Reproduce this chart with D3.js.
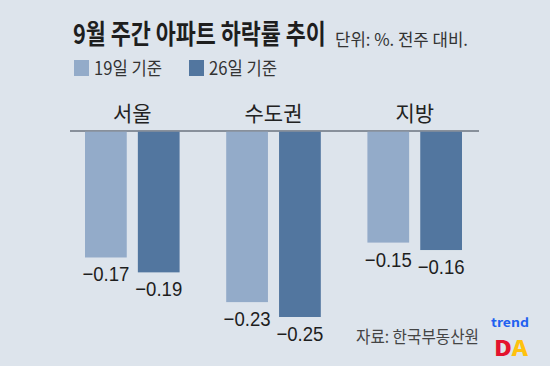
<!DOCTYPE html>
<html>
<head>
<meta charset="utf-8">
<script src="https://cdn.jsdelivr.net/npm/d3@7"></script>
<style>
  body { margin: 0; background: #dde4ec; }
  svg { display: block; }
  text { font-family: "Noto Sans CJK KR", "Noto Sans", sans-serif; }
  .num { font-family: "Liberation Sans", Arial, sans-serif; }
</style>
</head>
<body>
<svg id="chart" width="550" height="366"></svg>
<script>
const regions = ["서울", "수도권", "지방"];
const weeks = ["19일 기준", "26일 기준"];
const week19 = [-0.17, -0.23, -0.15];
const week26 = [-0.19, -0.25, -0.16];
const colors = ["#93abc9", "#52769f"];

const svg = d3.select("#chart");

svg.append("rect").attr("width", 550).attr("height", 366).attr("fill", "#dde4ec");

// squeeze a text horizontally so it spans `w` px starting at x (condensed look of the original)
function fit(sel, x, y, w, anchor) {
    sel.each(function () {
        const n = this.getComputedTextLength();
        const k = w / n;
        d3.select(this).attr("x", 0).attr("y", 0)
            .attr("text-anchor", anchor || "start")
            .attr("transform", "translate(" + x + "," + y + ") scale(" + k + ",1)");
    });
}

// rows built from the arrays above
const rows = regions.map((r, i) => ({ region: r, values: [week19[i], week26[i]] }));

const x0 = d3.scaleBand().domain(regions).range([85, 462]).paddingInner(0.33).paddingOuter(0);
const x1 = d3.scaleBand().domain(weeks).range([0, x0.bandwidth()]).paddingInner(0.21);
const y = d3.scaleLinear().domain([0, -0.25]).range([131, 317]);

// title
svg.append("text")
    .attr("font-size", 27).attr("font-weight", "bold").attr("fill", "#1e1e1e")
    .text("9월 주간 아파트 하락률 추이")
    .call(fit, 73, 44, 253);

svg.append("text")
    .attr("font-size", 17).attr("fill", "#333")
    .text("단위: %. 전주 대비.")
    .call(fit, 335, 46, 133);

// legend
const legend = svg.append("g").selectAll("g").data(weeks).enter().append("g")
    .attr("transform", (d, i) => "translate(" + (74 + i * 115) + ",60)");
legend.append("rect").attr("width", 15).attr("height", 16).attr("fill", (d, i) => colors[i]);
legend.append("text")
    .attr("font-size", 18).attr("fill", "#333")
    .text(d => d)
    .call(fit, 20, 15, 68);

// baseline
svg.append("line")
    .attr("x1", 70).attr("x2", 479)
    .attr("y1", y(0)).attr("y2", y(0))
    .attr("stroke", "#6b7480").attr("stroke-width", 1.5);

// category labels
svg.append("g").selectAll("text").data(regions).enter().append("text")
    .attr("x", d => x0(d) + x0.bandwidth() / 2)
    .attr("y", 121)
    .attr("text-anchor", "middle")
    .attr("font-size", 21).attr("fill", "#222")
    .text(d => d);

const groups = svg.append("g").selectAll("g").data(rows).enter().append("g")
    .attr("transform", d => "translate(" + x0(d.region) + ",0)");

const bars = groups.selectAll("g").data(d => d.values.map((v, i) => ({ key: weeks[i], value: v, i: i })))
    .enter().append("g");

bars.append("rect")
    .attr("x", d => x1(d.key))
    .attr("y", y(0) + 0.75)
    .attr("width", x1.bandwidth())
    .attr("height", d => y(d.value) - y(0) - 0.75)
    .attr("fill", d => colors[d.i]);

bars.append("text")
    .attr("class", "num")
    .attr("font-size", 20.5).attr("fill", "#1e1e1e")
    .text(d => "\u2212" + Math.abs(d.value).toFixed(2))
    .each(function (d) {
        d3.select(this).call(fit, x1(d.key) + x1.bandwidth() / 2, y(d.value) + 24, 47, "middle");
    });

// source
svg.append("text")
    .attr("font-size", 17).attr("fill", "#444")
    .text("자료: 한국부동산원")
    .call(fit, 356, 343, 123);

// logo
const trend = svg.append("text")
    .attr("font-family", "Inter, sans-serif")
    .attr("font-size", 12).attr("font-weight", "bold").attr("fill", "#2160f0")
    .text("trend")
    .call(fit, 491, 327, 38);
const logo = svg.append("text")
    .attr("font-family", "Inter, sans-serif")
    .attr("font-size", 21).attr("font-weight", "900");
logo.append("tspan").attr("fill", "#e4132e").text("D");
logo.append("tspan").attr("fill", "#ffc20e").text("A");
logo.call(fit, 494, 0, 34);
// put DA just under the "trend" box
const tb = trend.node().getBoundingClientRect();
const lb = logo.node().getBoundingClientRect();
const base = Math.max(352.5, tb.bottom + 0.5 - lb.top);
logo.call(fit, 494, base, 34);
</script>
</body>
</html>
